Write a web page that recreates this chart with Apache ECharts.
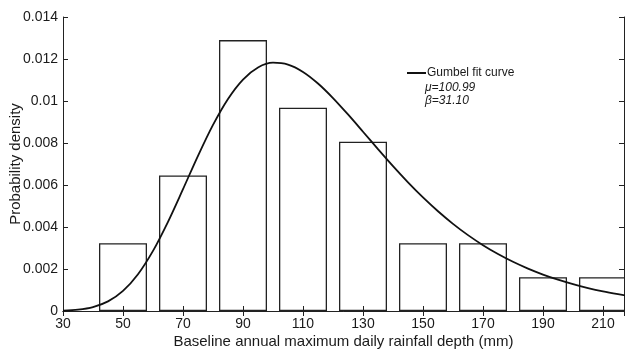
<!DOCTYPE html>
<html><head><meta charset="utf-8">
<script src="https://cdn.jsdelivr.net/npm/echarts@6/dist/echarts.min.js"></script>
<style>html,body{margin:0;padding:0;background:#fff}#c{width:625px;height:349px}</style>
</head><body><div id="c"></div>
<script>
const binCenters = [50, 70, 90, 110, 130, 150, 170, 190, 210];
const binDensity = [0.00323, 0.00645, 0.0129, 0.00968, 0.00806, 0.00323, 0.00323, 0.00161, 0.00161];
const curveX = [30,35,40,45,50,55,60,65,70,75,80,85,90,95,100,105,110,115,120,125,130,135,140,145,150,155,160,165,170,175,180,185,190,195,200,205,210,215,218];
const curveY = [0.0000174,0.0000636,0.000187,0.000458,0.000958,0.001754,0.002865,0.004249,0.005803,0.007388,0.008861,0.010099,0.011023,0.011597,0.011823,0.011735,0.011386,0.010835,0.010142,0.009360,0.008537,0.007706,0.006896,0.006126,0.005408,0.004749,0.004150,0.003613,0.003136,0.002714,0.002343,0.002018,0.001736,0.001490,0.001278,0.001095,0.000937,0.000802,0.000730];
const xTicks = [30, 50, 70, 90, 110, 130, 150, 170, 190, 210];
const yTickLabels = ['0', '0.002', '0.004', '0.006', '0.008', '0.01', '0.012', '0.014'];
const legendName = 'Gumbel fit curve';
const paramLines = ['μ=100.99', 'β=31.10'];

const chart = echarts.init(document.getElementById('c'), null, {renderer: 'canvas'});
const font = 'Liberation Sans, Arial, sans-serif';
const axisLine = {show: true, lineStyle: {color: '#222', width: 1}};
const tick = {show: true, inside: true, length: 5, lineStyle: {color: '#222', width: 1}};
chart.setOption({
  animation: false,
  backgroundColor: '#fff',
  grid: {left: 63, right: 1, top: 17, bottom: 38, containLabel: false, outerBoundsMode: 'none'},
  legend: {
    data: [legendName], left: 402, top: 62, itemWidth: 19, itemHeight: 2, icon: 'rect', itemGap: 0,
    textStyle: {fontFamily: font, fontSize: 12, color: '#1a1a1a', padding: [0, 0, 0, -4]}
  },
  graphic: [
    {type: 'text', left: 425, top: 82, style: {text: paramLines[0], fontFamily: font, fontSize: 12, fontStyle: 'italic', fill: '#1a1a1a'}},
    {type: 'text', left: 425, top: 95, style: {text: paramLines[1], fontFamily: font, fontSize: 12, fontStyle: 'italic', fill: '#1a1a1a'}}
  ],
  xAxis: [
    {type: 'value', min: 30, max: 217, interval: 20, position: 'bottom',
     axisLine, axisTick: tick, splitLine: {show: false},
     axisLabel: {fontFamily: font, fontSize: 14, color: '#1a1a1a', margin: 6, showMaxLabel: false,
       formatter: v => xTicks.includes(v) ? String(v) : ''},
     name: 'Baseline annual maximum daily rainfall depth (mm)', nameLocation: 'middle', nameGap: 23,
     nameMoveOverlap: false,
     nameTextStyle: {fontFamily: font, fontSize: 15, color: '#1a1a1a'}},
    {type: 'value', min: 30, max: 217, interval: 20, position: 'top',
     axisLine, axisTick: tick, axisLabel: {show: false}, splitLine: {show: false}}
  ],
  yAxis: [
    {type: 'value', min: 0, max: 0.014, interval: 0.002, position: 'left',
     axisLine, axisTick: tick, splitLine: {show: false},
     axisLabel: {fontFamily: font, fontSize: 14, color: '#1a1a1a', margin: 5,
       formatter: (v, i) => yTickLabels[Math.round(v / 0.002)]},
     name: 'Probability density', nameLocation: 'middle', nameGap: 40, nameMoveOverlap: false,
     nameTextStyle: {fontFamily: font, fontSize: 15, color: '#1a1a1a'}},
    {type: 'value', min: 0, max: 0.014, interval: 0.002, position: 'right',
     axisLine, axisTick: tick, axisLabel: {show: false}, splitLine: {show: false}}
  ],
  series: [
    {type: 'bar', barWidth: 48, xAxisIndex: 0, yAxisIndex: 0,
     data: binCenters.map((c, i) => [c, binDensity[i]]),
     itemStyle: {color: 'rgba(255,255,255,0)', borderColor: '#222', borderWidth: 1.3},
     silent: true, z: 2},
    {type: 'line', name: legendName, smooth: 0.3, showSymbol: false, xAxisIndex: 0, yAxisIndex: 0,
     data: curveX.map((x, i) => [x, curveY[i]]),
     lineStyle: {color: '#111', width: 1.8}, itemStyle: {color: '#111'}, z: 3}
  ]
});
</script></body></html>
